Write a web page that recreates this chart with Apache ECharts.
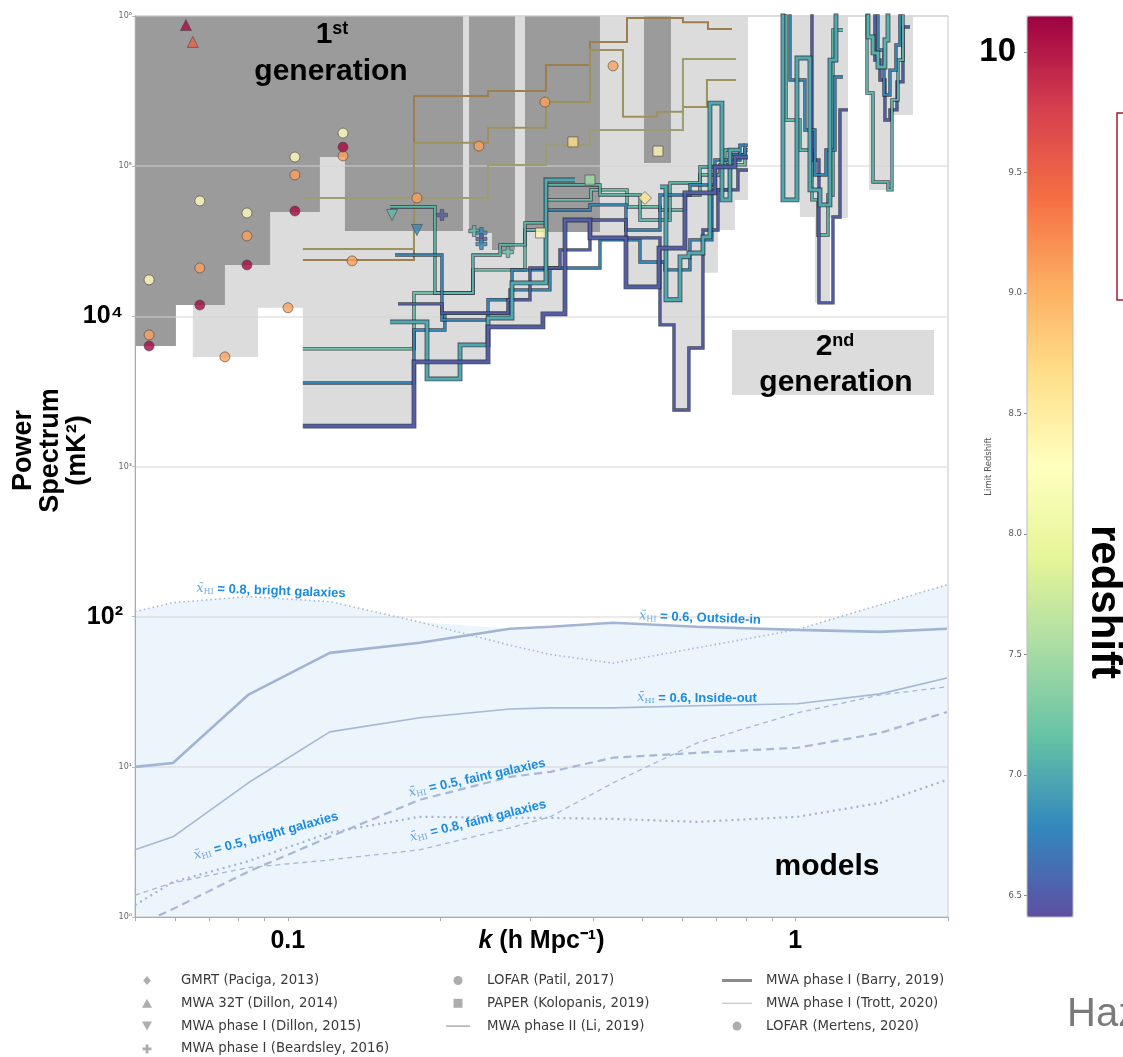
<!DOCTYPE html>
<html><head><meta charset="utf-8">
<script src="https://cdn.jsdelivr.net/npm/echarts/dist/echarts.min.js"></script>
<style>html,body{margin:0;padding:0;background:#fff}#c{width:1123px;height:1057px}</style>
</head><body><div id="c"></div>
<script>
// ---------------- axis / tick values ----------------
const kLabelTicks = [0.1, 1];
const kMinorTicks = [0.05,0.06,0.07,0.08,0.09,0.1,0.2,0.3,0.4,0.5,0.6,0.7,0.8,0.9,1,2];
const pLabelTicks = [1,10,100,1000,10000,100000,1000000];
const zLabelTicks = [6.5,7,7.5,8,8.5,9,9.5,10];
const Z_MIN = 6.41, Z_MAX = 10.15;

// ---------------- shaded regions (lower edge of upper-limit regions) ----------------
const gen1Edge = [[0.05,6350],[0.0602,11900],[0.0752,22000],[0.0923,49500],[0.1157,115000],[0.1296,37000],[0.2215,1e6],[0.2276,35900],[0.2526,27700],[0.2804,1e6],[0.2934,36500],[0.4123,1e6],[0.5035,105000],[0.569,1e6],[2.0,1e6]];
const gen2Edge = [[0.05,6350],[0.0602,11900],[0.065,5370],[0.0874,11400],[0.1071,1860],[0.1757,4970],[0.1881,3830],[0.2185,4970],[0.2481,8500],[0.3183,10400],[0.3485,41900],[0.3904,33300],[0.4639,15700],[0.5389,8770],[0.5768,2380],[0.6173,6160],[0.6579,19500],[0.7042,37600],[0.7607,59600],[0.8069,1e6],[0.9458,59600],[1.0216,45900],[1.0936,12300],[1.1707,45200],[1.2702,1e6],[1.3975,69500],[1.5371,219000],[1.706,1e6],[2.0,1e6]];

// ---------------- model curves ----------------
const kModel     = [0.05,0.0594,0.0835,0.121,0.182,0.274,0.329,0.4375,0.64,1.01,1.47,1.99];
const pBright08  = [108,124,136,126,92,64.5,56,49,62,82,120,163];
const pOutsideIn = [10.0,10.6,30.1,57.4,67,83,85.6,91,85.6,81.7,79.2,83];
const pInsideOut = [2.8,3.42,7.8,17.1,21.2,24.3,24.7,24.7,25.5,26.3,30.6,39.1];
const pFaint05   = [0.87,1.13,2.0,3.42,6.03,8.57,9.26,11.5,12.4,13.4,16.8,23.2];
const pFaint08   = [1.40,1.69,2.13,2.40,2.80,3.92,4.65,7.82,14.4,22.9,30.1,34.1];
const pBright05  = [1.20,1.71,2.35,3.64,4.65,4.57,4.57,4.5,4.30,4.65,5.75,8.19];

// ---------------- point limits [k, P, z] ----------------
const gmrt2013 = [[0.5057,61400,8.6]];
const mwa32t2014 = [[0.063,870000,10.1],[0.065,672000,9.5]];
const dillon2015 = [[0.1605,47300,7.1],[0.1797,37600,6.8]];
const beardsley2016 = [[0.2013,47300,6.5],[0.233,37000,7.1],[0.2408,35900,6.8],[0.2408,32800,6.5],[0.2408,30300,6.8],[0.2716,26800,7.1]];
const patil2017 = [[0.0533,17500,8.3],[0.0533,7520,9.1],[0.0533,6350,10.1],
  [0.0671,58700,8.3],[0.0671,21000,9.1],[0.0671,11900,10.1],
  [0.0831,48800,8.3],[0.0831,34300,9.1],[0.0831,22000,10.1],
  [0.1033,115000,8.3],[0.1033,87400,9.1],[0.1033,50300,10.1],
  [0.1285,166000,8.3],[0.1285,117000,9.1],[0.1285,134000,10.1]];
const kolopanis2019 = [[0.3149,35900,8.37],[0.3647,145000,8.68],[0.394,80900,7.49],[0.5364,126000,8.37]];
const mertens2020 = [[0.0752,5370,9.1],[0.1001,11400,9.1],[0.1339,23400,9.1],[0.1797,61400,9.1],[0.2381,136000,9.1],[0.3212,267000,9.1],[0.4375,465000,9.1]];

// ---------------- step-line limits [k, P] (level holds until next k) ----------------
const liZ = [8.9, 8.6, 8.2];
const liLines = [
  [[0.1071,23700],[0.1773,293000],[0.2481,317000],[0.3227,472000],[0.394,672000],[0.4661,970000],[0.6008,910000],[0.673,820000],[0.7504,820000]],
  [[0.1071,28100],[0.1773,143000],[0.2481,180000],[0.3227,267000],[0.394,594000],[0.4577,213000],[0.534,230000],[0.6008,248000],[0.6699,375000],[0.7641,375000]],
  [[0.1071,61400],[0.2481,102000],[0.3227,138000],[0.394,174000],[0.6008,517000],[0.7641,517000]]
];
const barryZ = [7.0, 7.0, 7.0, 7.05, 6.5];
const barryLines = [
  [[0.159,9180],[0.1881,3830],[0.2185,6450],[0.2481,9750],[0.2766,16700],[0.3227,80900],[0.368,80900]],
  [[0.5413,72800],[0.5562,12900],[0.5928,24900],[0.6173,26400],[0.6579,33800],[0.6791,263000],[0.7171,59600],[0.7436,128000],[0.7781,128000]],
  [[0.9122,2e6],[0.9458,59600],[1.0079,525000],[1.069,69500],[1.1189,55200],[1.1707,509000],[1.203,2e6],[1.2251,2e6]],
  [[1.3537,2e6],[1.391,725000],[1.4232,568000],[1.4554,457000],[1.5024,692000],[1.5231,2e6],[1.5723,2e6]],
  [[0.1071,1860],[0.1773,4970],[0.2481,8500],[0.3183,10400],[0.3518,43800],[0.394,33300],[0.4639,15700],[0.5389,28500],[0.6063,66400],[0.6947,98800],[0.7607,115000],[0.8069,115000]]
];
const trottZ = [7.2, 6.8, 7.1, 6.8, 6.5, 7.1, 6.5, 6.8, 6.5, 7.1, 6.8];
const trottLines = [
  [[0.1071,6070],[0.1773,14300],[0.2317,20400],[0.2934,37600],[0.3227,59600],[0.3958,69500],[0.4661,53500],[0.5413,51100],[0.6063,64300],[0.649,87400],[0.7106,102000],[0.7961,128000],[0.8069,128000]],
  [[0.1071,3600],[0.1773,8110],[0.204,10500],[0.2741,15000],[0.3285,21000],[0.4123,32300],[0.4944,23000],[0.5537,20400],[0.6202,32300],[0.6852,69500],[0.7436,119000],[0.7961,138000],[0.8069,138000]],
  [[0.159,53500],[0.195,14300],[0.2317,25600],[0.262,29900],[0.2934,41900],[0.3227,75000],[0.4123,64300],[0.4944,43800],[0.5665,77300],[0.649,98800],[0.7269,128000],[0.7781,128000]],
  [[0.1627,25600],[0.2013,9460],[0.2481,12900],[0.2766,20400],[0.3227,51100],[0.394,55200],[0.4639,37600],[0.5413,64300],[0.6202,75000],[0.6947,110000],[0.7781,138000],[0.7961,138000]],
  [[0.1649,12100],[0.2013,10500],[0.2716,12900],[0.3001,21000],[0.3439,27700],[0.394,43800],[0.4639,33300],[0.5413,8770],[0.5768,2380],[0.6173,6160],[0.6579,37600],[0.7042,69500],[0.7711,94400],[0.8069,94400]],
  [[0.933,2e6],[0.9589,203000],[1.0216,128000],[1.0789,59600],[1.1087,34800],[1.16,64300],[1.1867,807000],[1.2418,807000]],
  [[1.0451,2e6],[1.0789,110000],[1.1137,12300],[1.1867,45900],[1.2251,237000],[1.2702,237000]],
  [[0.9545,2e6],[0.9764,375000],[1.0451,174000],[1.0936,87400],[1.1497,128000],[1.1976,392000],[1.2418,392000]],
  [[1.4037,2e6],[1.4357,509000],[1.4688,375000],[1.5024,203000],[1.5371,237000],[1.5867,364000],[1.6304,845000],[1.683,845000]],
  [[1.3415,2e6],[1.385,307000],[1.4232,78500],[1.5231,69500],[1.551,276000],[1.5938,509000],[1.6304,2e6],[1.645,2e6]],
  [[1.4164,2e6],[1.4554,594000],[1.4958,298000],[1.5371,436000],[1.5795,641000],[1.6083,2e6],[1.645,2e6]]
];

// ---------------- colour map (Spectral, low -> high redshift) ----------------
const SPECTRAL = ['#5e4fa2','#3288bd','#66c2a5','#abdda4','#e6f598','#ffffbf','#fee08b','#fdae61','#f46d43','#d53e4f','#9e0142'];
function hexToRgb(h){h=h.replace('#','');return [0,2,4].map(i=>parseInt(h.slice(i,i+2),16));}
function cmapRgb(z){
  let t=(z-Z_MIN)/(Z_MAX-Z_MIN); t=Math.max(0,Math.min(1,t));
  const f=t*(SPECTRAL.length-1); const i=Math.min(Math.floor(f),SPECTRAL.length-2); const u=f-i;
  const a=hexToRgb(SPECTRAL[i]), b=hexToRgb(SPECTRAL[i+1]);
  return a.map((v,j)=>Math.round(v+(b[j]-v)*u));
}
const rgbStr=c=>'rgb('+c.join(',')+')';
const cmap=z=>rgbStr(cmapRgb(z));
function mixWith(z,hex,t){const a=cmapRgb(z),b=hexToRgb(hex);return rgbStr(a.map((v,j)=>Math.round(v*(1-t)+b[j]*t)));}

const chart = echarts.init(document.getElementById('c'), null, {renderer:'canvas'});
const series = [];

// shaded regions
series.push({type:'line', name:'2nd generation region', data:gen2Edge, step:'end', symbol:'none', z:0, silent:true,
  lineStyle:{width:0}, areaStyle:{color:'#dcdcdc', opacity:1, origin:'end'}});
series.push({type:'line', name:'1st generation region', data:gen1Edge, step:'end', symbol:'none', z:0, silent:true,
  lineStyle:{width:0}, areaStyle:{color:'#9b9b9b', opacity:1, origin:'end'}});
// model envelope fill
const modelCurves = [pBright08,pOutsideIn,pInsideOut,pFaint05,pFaint08,pBright05];
const envelope = kModel.map((k,i)=>[k, Math.max(...modelCurves.map(c=>c[i]))]);
series.push({type:'line', name:'models region', data:envelope, symbol:'none', z:0, silent:true,
  lineStyle:{width:0}, areaStyle:{color:'rgba(205,226,248,0.38)', opacity:1, origin:'start'}});

// model lines
const mcol='#a6b8d6';
const modelStyles = [
  [pBright08, {color:mcol,width:1.6,type:[1.5,3]}],
  [pOutsideIn,{color:'#a2b4d3',width:2.6,type:'solid'}],
  [pInsideOut,{color:mcol,width:1.6,type:'solid'}],
  [pFaint05,  {color:'#a8b8d3',width:2.2,type:[8,5]}],
  [pFaint08,  {color:mcol,width:1.3,type:[5,4]}],
  [pBright05, {color:'#a3b4d2',width:2.2,type:[2,4]}]
];
modelStyles.forEach(([arr,ls],i)=>{
  series.push({type:'line', name:'model '+i, data:kModel.map((k,j)=>[k,arr[j]]), symbol:'none', z:3, silent:true, lineStyle:ls});
});

// step lines
function addStep(name, pts, z, width, outline, colorFn){
  if (outline>0) series.push({type:'line', name:name+' outline', data:pts, step:'end', symbol:'none', z:3, silent:true,
    lineStyle:{color:'#1d2533', width:width+outline, opacity:0.8, join:'miter'}});
  series.push({type:'line', name:name, data:pts, step:'end', symbol:'none', z:3, silent:true,
    lineStyle:{color:colorFn(z), width:width, join:'miter'}, itemStyle:{color:'#aaa'}});
}
liLines.forEach((pts,i)=>addStep('MWA phase II (Li, 2019)', pts, liZ[i], 2, 0, z=>mixWith(z,'#3d3d2d',0.5)));
trottLines.forEach((pts,i)=>addStep('MWA phase I (Trott, 2020)', pts, trottZ[i], 1.8, 1.6, cmap));
barryLines.forEach((pts,i)=>addStep('MWA phase I (Barry, 2019)', pts, barryZ[i], 3.0, 1.8, cmap));

// markers
const invTri='path://M0,0 L10,0 L5,9 Z';
const upTri='path://M5,0 L10,9 L0,9 Z';
const diam='path://M5,0 L10,6 L5,12 L0,6 Z';
const sq='path://M0,0 H10 V10 H0 Z';
const plus='path://M3.4,0 H6.6 V3.4 H10 V6.6 H6.6 V10 H3.4 V6.6 H0 V3.4 H3.4 Z';
function addScatter(name, data, symbol, size){
  series.push({type:'scatter', name, data, symbol, symbolSize:size, z:6, silent:true,
    itemStyle:{color:p=>cmap(p.data[2]), borderColor:'#4a4a4a', borderWidth:0.8}});
}
addScatter('GMRT (Paciga, 2013)', gmrt2013, 'diamond', 13);
addScatter('MWA 32T (Dillon, 2014)', mwa32t2014, 'triangle', 11);
addScatter('MWA phase I (Dillon, 2015)', dillon2015, invTri, 11);
addScatter('MWA phase I (Beardsley, 2016)', beardsley2016, plus, 11);
addScatter('LOFAR (Patil, 2017)', patil2017, 'circle', 10);
addScatter('PAPER (Kolopanis, 2019)', kolopanis2019, 'rect', 10);
addScatter('LOFAR (Mertens, 2020)', mertens2020, 'circle', 10);
// dummy series for colourbar
series.push({type:'scatter', name:'cbar', data:[], xAxisIndex:1, yAxisIndex:1});
const cbarIndex = series.length-1;

const gray='#999';
const lineIcon='path://M0,0 H30 V3 H0 Z', thinIcon='path://M0,0 H30 V1.2 H0 Z', midIcon='path://M0,0 H30 V1.8 H0 Z';
const legText=pad=>({fontFamily:'DejaVu Sans', fontSize:13.3, color:'#3a3a3a', padding:[0,0,0,pad]});
const legBase={orient:'vertical', itemWidth:24, itemHeight:9, itemGap:9.8, padding:0, height:90, selectedMode:false, symbolKeepAspect:true};

const bigFont='Liberation Sans, Arial, sans-serif';
const labelBlue='#1b8be0';
const xrich={x:{fontFamily:'DejaVu Serif',fontStyle:'italic',fontSize:13,fill:'#6aa6dd'},
  s:{fontFamily:'DejaVu Serif',fontSize:8,fill:'#6aa6dd',verticalAlign:'bottom',padding:[6,0,0,0]},
  t:{fontFamily:bigFont,fontWeight:'bold',fontSize:13,fill:labelBlue}};
function modelLabel(txt,x,y,deg){
  return {type:'text', x, y, rotation:deg*Math.PI/180, z:20, silent:true,
    style:{text:'{x|x̄}{s|HI}{t| = '+txt+'}', rich:xrich, align:'center', verticalAlign:'middle'}};
}
const supRich={n:{fontFamily:bigFont,fontWeight:'bold',fontSize:30,fill:'#000'},
               s:{fontFamily:bigFont,fontWeight:'bold',fontSize:18,fill:'#000',verticalAlign:'top'}};

const option = {
  animation:false,
  backgroundColor:'#fff',
  grid:[
    {left:135, top:16, width:813, height:901, outerBoundsMode:'none', containLabel:false, show:true, borderColor:'#c8c8c8', borderWidth:1, backgroundColor:'transparent'},
    {left:1027, top:16, width:46, height:901, outerBoundsMode:'none', containLabel:false}
  ],
  xAxis:[
    {type:'log', logBase:10, min:0.05, max:2, gridIndex:0, z:1,
      axisLine:{show:true, lineStyle:{color:'#aaa'}},
      axisTick:{show:true, customValues:kMinorTicks, length:4, lineStyle:{color:'#aaa'}},
      axisLabel:{customValues:kLabelTicks, formatter:v=>String(+v.toPrecision(3)), fontFamily:bigFont, fontWeight:'bold', fontSize:25, color:'#000', margin:12},
      splitLine:{show:false},
      name:'{i|k} (h Mpc⁻¹)', nameLocation:'middle', nameGap:12, nameMoveOverlap:false,
      nameTextStyle:{verticalAlign:'top', rich:{i:{fontFamily:bigFont,fontWeight:'bold',fontStyle:'italic',fontSize:25,color:'#000'}}, fontFamily:bigFont, fontWeight:'bold', fontSize:25, color:'#000'}
    },
    {type:'value', gridIndex:1, show:false, min:0, max:1}
  ],
  yAxis:[
    {type:'log', logBase:10, min:1, max:1e6, gridIndex:0, z:1,
      axisLine:{show:true, lineStyle:{color:'#aaa'}},
      axisTick:{show:true, length:3, lineStyle:{color:'#bbb'}},
      axisLabel:{customValues:pLabelTicks, margin:3,
        formatter:v=>{const e=Math.round(Math.log10(v)); const sup='⁰¹²³⁴⁵⁶⁷⁸⁹'[e];
          return (e===4||e===2)?'{b|10'+sup+'}{pad|}':'{s|10'+sup+'}';},
        rich:{s:{fontFamily:'DejaVu Sans',fontSize:8,color:'#666'},
              b:{fontFamily:bigFont,fontWeight:'bold',fontSize:25,color:'#000'},
              pad:{width:9}}},
      splitLine:{show:true, lineStyle:{color:'rgba(212,212,212,0.65)', width:1.5}},
      name:'Power\nSpectrum\n(mK²)', nameLocation:'middle', nameGap:44, nameRotate:90, nameMoveOverlap:false,
      nameTextStyle:{fontFamily:bigFont, fontWeight:'bold', fontSize:27, lineHeight:27, color:'#000', padding:[0,0,0,32]}
    },
    {type:'value', gridIndex:1, min:Z_MIN, max:Z_MAX, position:'left',
      axisLine:{show:false},
      axisTick:{show:true, customValues:zLabelTicks, length:3, lineStyle:{color:'#888'}},
      axisLabel:{customValues:zLabelTicks, margin:5,
        formatter:v=>Math.abs(v-10)<1e-6?'{big|10}{pad|}':'{s|'+v.toFixed(1)+'}',
        rich:{s:{fontFamily:'DejaVu Sans',fontSize:8.5,color:'#555'},
              big:{fontFamily:bigFont,fontWeight:'bold',fontSize:33,color:'#000'}, pad:{width:6}}},
      splitLine:{show:false},
      name:'Limit Redshift', nameLocation:'middle', nameGap:34, nameRotate:90, nameMoveOverlap:false,
      nameTextStyle:{fontFamily:'DejaVu Sans', fontSize:8.5, color:'#555'}
    }
  ],
  visualMap:{type:'continuous', min:Z_MIN, max:Z_MAX, left:1027, top:16, itemWidth:46, itemHeight:901,
    padding:0, calculable:false, hoverLink:false, seriesIndex:cbarIndex, text:null, showLabel:false,
    inRange:{color:SPECTRAL}},
  legend:[
    Object.assign({}, legBase, {left:142, top:974, textStyle:legText(17), data:[
      {name:'GMRT (Paciga, 2013)', icon:diam, itemStyle:{color:gray,borderWidth:0}},
      {name:'MWA 32T (Dillon, 2014)', icon:upTri, itemStyle:{color:gray,borderWidth:0}},
      {name:'MWA phase I (Dillon, 2015)', icon:invTri, itemStyle:{color:gray,borderWidth:0}},
      {name:'MWA phase I (Beardsley, 2016)', icon:plus, itemStyle:{color:gray,borderWidth:0}}]}),
    Object.assign({}, legBase, {left:446, top:974, textStyle:legText(12), data:[
      {name:'LOFAR (Patil, 2017)', icon:'circle', itemStyle:{color:gray,borderWidth:0}},
      {name:'PAPER (Kolopanis, 2019)', icon:sq, itemStyle:{color:gray,borderWidth:0}},
      {name:'MWA phase II (Li, 2019)', icon:midIcon, itemStyle:{color:'#aaa',borderWidth:0}}]}),
    Object.assign({}, legBase, {left:722, top:974, itemWidth:30, textStyle:legText(9), data:[
      {name:'MWA phase I (Barry, 2019)', icon:lineIcon, itemStyle:{color:'#8c8c8c',borderWidth:0}},
      {name:'MWA phase I (Trott, 2020)', icon:thinIcon, itemStyle:{color:'#c4c4c4',borderWidth:0}},
      {name:'LOFAR (Mertens, 2020)', icon:'circle', itemStyle:{color:gray,borderWidth:0}}]})
  ],
  graphic:[
    {type:'text', x:332, y:35, z:20, silent:true, style:{text:'{n|1}{s|st}', rich:supRich, align:'center', verticalAlign:'middle'}},
    {type:'text', x:331, y:72, z:20, silent:true, style:{text:'generation', fontFamily:bigFont, fontWeight:'bold', fontSize:30, fill:'#000', align:'center', verticalAlign:'middle'}},
    {type:'rect', z:19, silent:true, shape:{x:732, y:330, width:202, height:65}, style:{fill:'#dcdcdc'}},
    {type:'text', x:835, y:347, z:20, silent:true, style:{text:'{n|2}{s|nd}', rich:supRich, align:'center', verticalAlign:'middle'}},
    {type:'text', x:836, y:383, z:20, silent:true, style:{text:'generation', fontFamily:bigFont, fontWeight:'bold', fontSize:30, fill:'#000', align:'center', verticalAlign:'middle'}},
    {type:'text', x:827, y:867, z:20, silent:true, style:{text:'models', fontFamily:bigFont, fontWeight:'bold', fontSize:30, fill:'#000', align:'center', verticalAlign:'middle'}},
    modelLabel('0.8, bright galaxies', 271, 591, -2),
    modelLabel('0.6, Outside-in', 700, 618, -2),
    modelLabel('0.6, Inside-out', 697, 698, 0),
    modelLabel('0.5, bright galaxies', 266, 836, 15.5),
    modelLabel('0.5, faint galaxies', 477, 778, 12.5),
    modelLabel('0.8, faint galaxies', 478, 821, 14),
    {type:'rect', z:20, silent:true, shape:{x:1027, y:16, width:46, height:901}, style:{fill:'none', stroke:'#bdbdbd', lineWidth:1}},
    {type:'text', x:1104, y:602, rotation:-Math.PI/2, z:20, silent:true, style:{text:'redshift', fontFamily:bigFont, fontWeight:'bold', fontSize:42, fill:'#000', align:'center', verticalAlign:'middle'}},
    {type:'rect', z:20, silent:true, shape:{x:1117, y:113, width:30, height:187}, style:{fill:'none', stroke:'#a51d2d', lineWidth:1.5}},
    {type:'text', x:1067, y:1035, z:20, silent:true, style:{text:'Haz', fontFamily:bigFont, fontSize:40, fill:'#7a7a7a', align:'left', verticalAlign:'bottom'}}
  ],
  series
};
chart.setOption(option);
</script></body></html>
